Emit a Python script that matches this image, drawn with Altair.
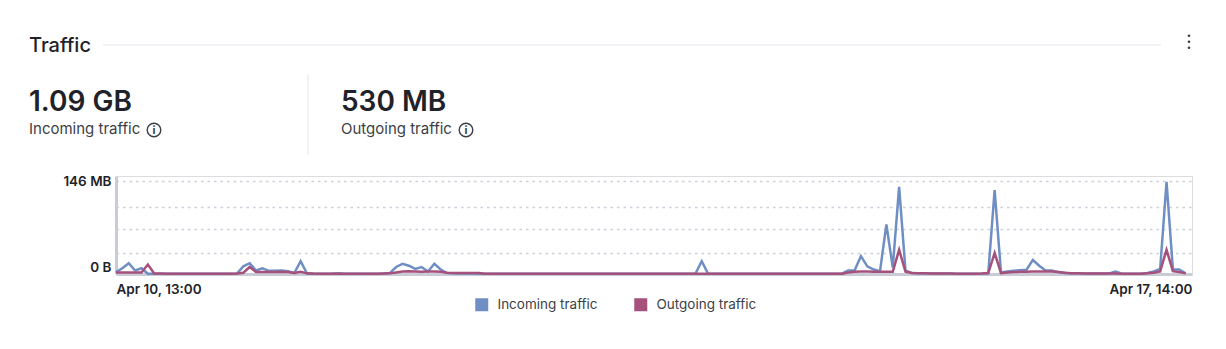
import altair as alt
import pandas as pd

SERIES = ["Incoming traffic", "Outgoing traffic"]
COLORS = ["#6f8fc4", "#a6507c"]
X_LABELS = ["Apr 10, 13:00", "Apr 17, 14:00"]
Y_TICKS_MB = [0, 33, 70, 106, 146]
Y_LABELS = ["0 B", "146 MB"]
TITLE = "Traffic"
TOTALS = ["1.09 GB", "530 MB"]

# hourly samples, hour offset from Apr 10, 13:00
HOURS = list(range(169))

INCOMING_MB = [
    3, 9, 17, 5.5, 9, 0.5, 0.4, 0.3, 0.3, 0.2,
    0.2, 0.2, 0.2, 0.2, 0.2, 0.2, 0.3, 0.3, 0.4, 0.6,
    12, 17, 5.5, 9, 5, 5, 5.5, 4.5, 1.5, 20,
    0.8, 0.5, 0.4, 0.4, 0.6, 1.2, 0.5, 0.3, 0.3, 0.3,
    0.3, 0.4, 0.6, 1.5, 11, 16, 13, 8, 11, 4,
    16, 7, 1.5, 1, 0.8, 0.8, 0.6, 0.5, 0.4, 0.3,
    0.2, 0.2, 0.2, 0.2, 0.2, 0.2, 0.2, 0.2, 0.2, 0.2,
    0.2, 0.2, 0.2, 0.2, 0.2, 0.2, 0.2, 0.2, 0.2, 0.2,
    0.2, 0.2, 0.2, 0.2, 0.2, 0.2, 0.2, 0.2, 0.2, 0.2,
    0.2, 0.3, 20, 0.3, 0.2, 0.2, 0.2, 0.2, 0.2, 0.2,
    0.2, 0.2, 0.2, 0.2, 0.2, 0.2, 0.2, 0.2, 0.2, 0.2,
    0.2, 0.2, 0.3, 0.4, 0.5, 5.5, 5.5, 28, 12, 7,
    4.5, 78, 10, 137, 5.5, 1.5, 1, 1, 0.9, 0.8,
    0.7, 0.6, 0.5, 0.5, 0.5, 0.5, 0.6, 1, 132, 2.5,
    4, 5, 6, 6.5, 22, 13, 5.5, 5.5, 3, 1.5,
    1, 1, 0.8, 0.8, 0.6, 0.6, 0.8, 4, 0.5, 0.5,
    0.5, 0.5, 1.5, 4, 8, 145, 7, 7, 1,
]

OUTGOING_MB = [
    2.5, 2.5, 2.5, 2.5, 2.5, 15, 0.8, 0.6, 0.5, 0.4,
    0.3, 0.3, 0.3, 0.3, 0.3, 0.3, 0.3, 0.3, 0.4, 0.8,
    2, 11, 3, 3, 3, 3, 3.5, 3, 1.5, 3.5,
    1, 0.6, 0.5, 0.5, 0.5, 0.5, 0.4, 0.4, 0.4, 0.4,
    0.4, 0.5, 0.8, 1, 2.5, 4, 4.5, 4, 3.5, 4,
    4, 3.5, 2, 1.5, 1.5, 1.5, 1.5, 1.5, 0.5, 0.3,
    0.2, 0.2, 0.2, 0.2, 0.2, 0.2, 0.2, 0.2, 0.2, 0.2,
    0.2, 0.2, 0.2, 0.2, 0.2, 0.2, 0.2, 0.2, 0.2, 0.2,
    0.2, 0.2, 0.2, 0.2, 0.2, 0.2, 0.2, 0.2, 0.2, 0.2,
    0.2, 0.2, 0.2, 0.2, 0.2, 0.2, 0.2, 0.2, 0.2, 0.2,
    0.2, 0.2, 0.2, 0.2, 0.2, 0.2, 0.2, 0.2, 0.2, 0.2,
    0.2, 0.2, 0.3, 0.4, 0.5, 2.5, 3.5, 4, 4, 3.5,
    3.5, 3.5, 3.5, 38, 3.5, 1.5, 1, 1, 0.9, 0.8,
    0.7, 0.6, 0.5, 0.5, 0.5, 0.5, 0.6, 1.5, 33, 1.5,
    2.5, 3, 3.5, 3.5, 4, 4, 4, 4, 3, 2,
    1, 1, 0.8, 0.8, 0.6, 0.6, 0.6, 0.8, 0.5, 0.5,
    0.5, 0.5, 1, 2, 4, 38, 4.5, 3, 1,
]

df = pd.DataFrame({
    "hour": HOURS + HOURS,
    "mb": INCOMING_MB + OUTGOING_MB,
    "series": [SERIES[0]] * len(HOURS) + [SERIES[1]] * len(HOURS),
})

FONT = "Inter"
DARK = "#1f2329"
MID = "#3c3f46"
AXIS_GREY = "#c9ccd6"

y_label_expr = (
    f"datum.value == 0 ? '{Y_LABELS[0]}' : "
    f"(datum.value == 146 ? '{Y_LABELS[1]}' : '')"
)
x_label_expr = f"datum.value == 0 ? '{X_LABELS[0]}' : '{X_LABELS[1]}'"

lines = alt.Chart(df).mark_line(interpolate="linear").encode(
    x=alt.X(
        "hour:Q",
        scale=alt.Scale(domain=[0, 169], nice=False, zero=False),
        axis=alt.Axis(
            values=[0, 169], labelExpr=x_label_expr, labelFlush=True,
            labelOverlap=False, grid=False, ticks=False,
            domainColor=AXIS_GREY, domainWidth=3, labelPadding=8,
            labelFontSize=13.5, labelFontWeight=600, labelColor=DARK,
            labelFont=FONT, title=None,
        ),
    ),
    y=alt.Y(
        "mb:Q",
        scale=alt.Scale(domain=[0, 154], nice=False),
        axis=alt.Axis(
            values=Y_TICKS_MB, labelExpr=y_label_expr,
            labelBaseline={"condition": {"test": "datum.value == 0", "value": "bottom"}, "value": "middle"},
            grid=True, gridDash=[2.5, 4], gridColor="#cdd0da", gridWidth=1.3,
            ticks=False, domainColor=AXIS_GREY, domainWidth=3,
            labelPadding=5, labelFontSize=13.5, labelFontWeight=600,
            labelColor=DARK, labelFont=FONT, title=None,
        ),
    ),
    color=alt.Color(
        "series:N",
        scale=alt.Scale(domain=SERIES, range=COLORS),
        legend=alt.Legend(
            orient="none", legendX=359, legendY=122, direction="horizontal",
            title=None, symbolType="square", symbolSize=42.25,
            symbolStrokeWidth=6.5, symbolOpacity=1, labelFontSize=13.5,
            labelColor=MID, labelFont=FONT, labelOffset=9,
            columnPadding=26, padding=0,
        ),
    ),
    strokeWidth=alt.value(2.5),
)

one = alt.Data(values=[{}])


def txt(text, x, y, size, weight=400, color=DARK, align="left", baseline="alphabetic"):
    return alt.Chart(one).mark_text(
        text=text, fontSize=size, fontWeight=weight, color=color, font=FONT,
        align=align, baseline=baseline,
    ).encode(x=alt.value(x), y=alt.value(y))


def info_icon(x, y):
    ring = alt.Chart(one).mark_point(
        shape="circle", filled=False, size=185, stroke=MID, strokeWidth=1.4, opacity=1
    ).encode(x=alt.value(x), y=alt.value(y))
    i = txt("i", x, y + 0.5, 11, 700, MID, "center", "middle")
    return ring + i


header_line = alt.Chart(one).mark_rule(color="#e4e6ec", strokeWidth=1).encode(
    x=alt.value(-13), x2=alt.value(1045), y=alt.value(-131)
)
divider = alt.Chart(one).mark_rule(color="#e4e6ec", strokeWidth=1).encode(
    x=alt.value(192), y=alt.value(-102), y2=alt.value(-22)
)
dots = [
    alt.Chart(one).mark_point(shape="circle", filled=True, size=7, color=MID, opacity=1)
    .encode(x=alt.value(1073), y=alt.value(yy))
    for yy in (-140.3, -134.3, -128.3)
]

layers = [
    header_line, divider,
    txt(TITLE, -87, -123.7, 20, 500),
    txt(TOTALS[0], -87, -65, 28, 600),
    txt(SERIES[0], -87, -41.7, 15, 400, MID),
    info_icon(38, -46),
    txt(TOTALS[1], 225, -65, 28, 600),
    txt(SERIES[1], 225, -41.7, 15, 400, MID),
    info_icon(350, -46),
    *dots,
    lines,
]

chart = alt.layer(*layers).properties(
    width=1076, height=98,
    autosize=alt.AutoSizeParams(type="none"),
    padding={"left": 116, "top": 176, "right": 34, "bottom": 75},
    background="white",
).configure_view(strokeWidth=0).configure(font=FONT)

chart.save("out.html", embed_options={"renderer": "svg", "actions": False})
